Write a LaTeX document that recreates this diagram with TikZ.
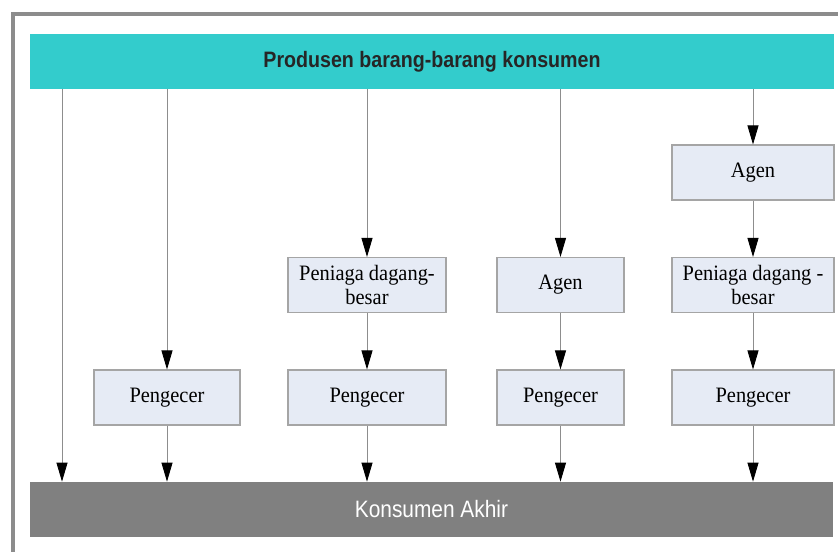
\documentclass[tikz,border=0pt]{standalone}
\usepackage{fontspec}
\setmainfont{Liberation Serif}[FakeStretch=0.93]
\newfontfamily\barfont{Liberation Sans}[FakeStretch=0.88]
\usepackage{xcolor}
\definecolor{dsteal}{RGB}{51,204,204}
\definecolor{dsgray}{RGB}{128,128,128}
\definecolor{dsbox}{RGB}{230,235,245}
\definecolor{dsedge}{RGB}{165,165,165}
\definecolor{dsframe}{RGB}{140,140,140}
\usetikzlibrary{arrows.meta}

\begin{document}
\begin{tikzpicture}[
    bar/.style={minimum width=16.07cm, minimum height=1.1cm, inner sep=0pt,
                font=\barfont\fontsize{12.5}{14}\selectfont},
    chainbox/.style={draw=dsedge, line width=0.6pt, fill=dsbox, minimum height=1.1cm,
                     inner sep=1pt, align=center, font=\fontsize{12.5}{14}\selectfont},
    flow/.style={draw=dsgray!90, line width=0.5pt,
                 -{Triangle[length=3.8mm, width=2.2mm, black]}}
  ]
  \useasboundingbox (0,0) rectangle (16.76,11.04);

  % Frame round the chart (left and top edges)
  \draw[dsframe, line width=2pt] (0.26,0) -- (0.26,10.76) -- (16.8,10.76);

  % Producer and consumer bars
  \node[bar, fill=dsteal, text=black!85, font=\barfont\bfseries\fontsize{12.7}{14}\selectfont]
       (prod) at (8.64,9.81) {Produsen barang-barang konsumen};
  \node[bar, fill=dsgray, text=white, font=\barfont\fontsize{13.5}{15}\selectfont]
       (kons) at (8.63,0.85) {Konsumen Akhir};

  % Channel 1 -- direct
  \coordinate (ch1) at (1.24,0);

  % Channel 2
  \node[chainbox, minimum width=2.92cm] (ecer2) at (3.34,3.09) {Pengecer};

  % Channel 3
  \node[chainbox, minimum width=3.16cm] (besar3) at (7.34,5.34) {Peniaga dagang-\\besar};
  \node[chainbox, minimum width=3.16cm] (ecer3) at (7.34,3.09) {Pengecer};

  % Channel 4
  \node[chainbox, minimum width=2.54cm] (agen4) at (11.21,5.34) {Agen};
  \node[chainbox, minimum width=2.54cm] (ecer4) at (11.21,3.09) {Pengecer};

  % Channel 5
  \node[chainbox, minimum width=3.24cm] (agen5) at (15.06,7.59) {Agen};
  \node[chainbox, minimum width=3.24cm] (besar5) at (15.06,5.34) {Peniaga dagang -\\besar};
  \node[chainbox, minimum width=3.24cm] (ecer5) at (15.06,3.09) {Pengecer};

  % Arrows down from the producer
  \draw[flow] (ch1 |- prod.south) -- (ch1 |- kons.north);
  \draw[flow] (ecer2.north |- prod.south) -- (ecer2.north);
  \draw[flow] (besar3.north |- prod.south) -- (besar3.north);
  \draw[flow] (agen4.north |- prod.south) -- (agen4.north);
  \draw[flow] (agen5.north |- prod.south) -- (agen5.north);

  % Arrows between intermediaries
  \draw[flow] (besar3) -- (ecer3);
  \draw[flow] (agen4) -- (ecer4);
  \draw[flow] (agen5) -- (besar5);
  \draw[flow] (besar5) -- (ecer5);

  % Arrows to the consumer
  \draw[flow] (ecer2.south) -- (ecer2.south |- kons.north);
  \draw[flow] (ecer3.south) -- (ecer3.south |- kons.north);
  \draw[flow] (ecer4.south) -- (ecer4.south |- kons.north);
  \draw[flow] (ecer5.south) -- (ecer5.south |- kons.north);
\end{tikzpicture}
\end{document}
